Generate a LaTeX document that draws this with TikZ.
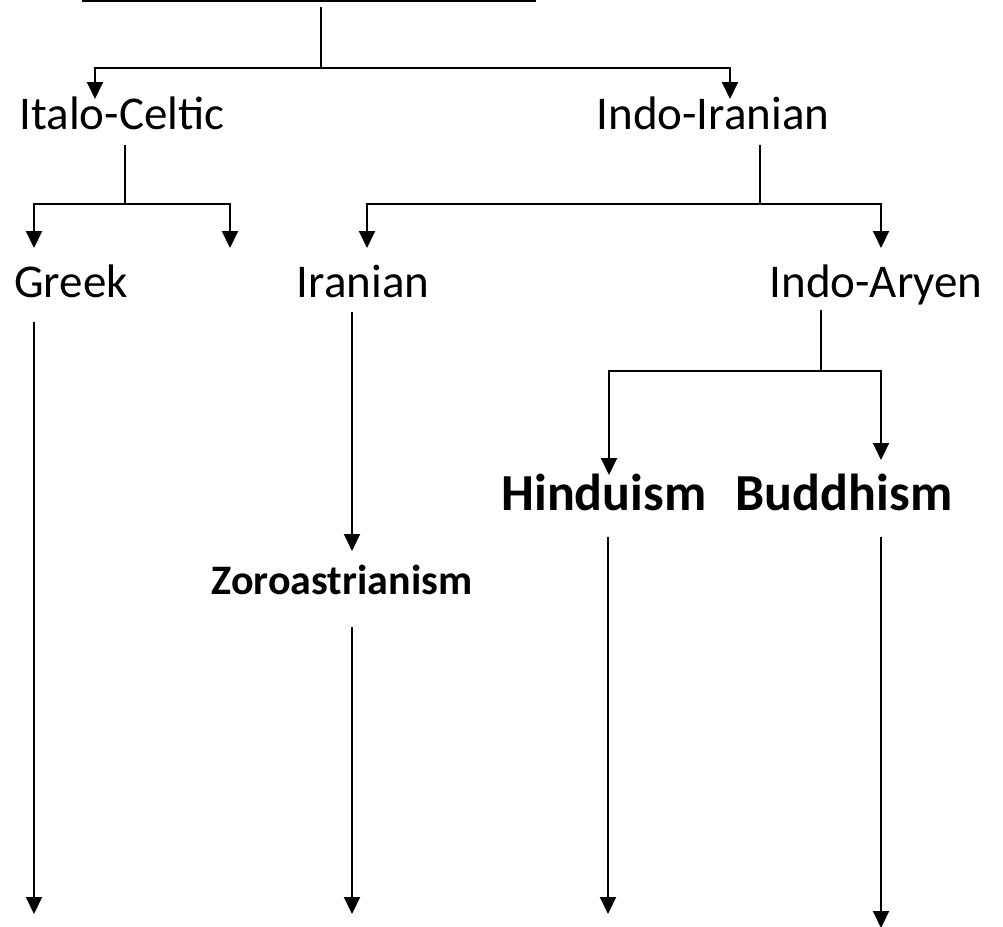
\documentclass[tikz,border=0pt]{standalone}
\usepackage{fontspec}
\setmainfont{Carlito}
\usetikzlibrary{arrows.meta}

\tikzset{
  lang/.style={anchor=base,inner sep=0pt,font=\fontsize{47}{47}\selectfont},
  relig/.style={anchor=base,inner sep=0pt,font=\fontsize{52}{52}\selectfont\bfseries},
  smallrelig/.style={anchor=base,inner sep=0pt,font=\fontsize{42}{42}\selectfont\bfseries},
  stem/.style={line width=2pt,black},
  branch/.style={line width=2pt,black,-{Triangle[length=17pt,width=16pt]}}
}

\begin{document}
\begin{tikzpicture}[x=1pt,y=-1pt]
\useasboundingbox (0,0) rectangle (1003,926);

% Labels
\node[lang] (italo) at (122,129) {Italo-Celtic};
\node[lang] (indoir) at (713,129) {Indo-Iranian};
\node[lang] (greek) at (71,297) {Greek};
\node[lang] (iranian) at (363,297) {Iranian};
\node[lang] (indoar) at (876,297) {Indo-Aryen};
\node[smallrelig] (zoro) at (342,594) {Zoroastrianism};
\node[relig] (hindu) at (604,510) {Hinduism};
\node[relig] (buddh) at (844,510) {Buddhism};

% Root
\coordinate (rootl) at (82,1);
\coordinate (rootr) at (536,1);
\coordinate (roottop) at (321,7);
\coordinate (rootj) at (321,68);
\coordinate (italotip) at (95,99);
\coordinate (indoirtip) at (730,99);
\draw[stem] (rootl) -- (rootr);
\draw[stem] (roottop) -- (rootj);
\draw[branch] (rootj) -| (italotip);
\draw[branch] (rootj) -| (indoirtip);

% Italo-Celtic
\coordinate (italotop) at (125,145);
\coordinate (italoj) at (125,204);
\coordinate (greektip) at (34,248);
\coordinate (othertip) at (230,248);
\draw[stem] (italotop) -- (italoj);
\draw[branch] (italoj) -| (greektip);
\draw[branch] (italoj) -| (othertip);

% Indo-Iranian
\coordinate (indoirtop) at (760,145);
\coordinate (indoirj) at (760,204);
\coordinate (iraniantip) at (367,248);
\coordinate (indoartip) at (881,248);
\draw[stem] (indoirtop) -- (indoirj);
\draw[branch] (indoirj) -| (iraniantip);
\draw[branch] (indoirj) -| (indoartip);

% Greek
\coordinate (greektop) at (34,322);
\coordinate (greekend) at (34,914);
\draw[branch] (greektop) -- (greekend);

% Iranian
\coordinate (iraniantop) at (352,312);
\coordinate (zorotip) at (352,551);
\draw[branch] (iraniantop) -- (zorotip);
\coordinate (zorotop) at (352,627);
\coordinate (zoroend) at (352,914);
\draw[branch] (zorotop) -- (zoroend);

% Indo-Aryen
\coordinate (indoartop) at (821,310);
\coordinate (indoarj) at (821,371);
\coordinate (hindutip) at (609,475);
\coordinate (buddhtip) at (881,460);
\draw[stem] (indoartop) -- (indoarj);
\draw[branch] (indoarj) -| (hindutip);
\draw[branch] (indoarj) -| (buddhtip);

% Hinduism
\coordinate (hindutop) at (608,537);
\coordinate (hinduend) at (608,914);
\draw[branch] (hindutop) -- (hinduend);

% Buddhism
\coordinate (buddhtop) at (881,537);
\coordinate (buddhend) at (881,928);
\draw[branch] (buddhtop) -- (buddhend);

\end{tikzpicture}
\end{document}
